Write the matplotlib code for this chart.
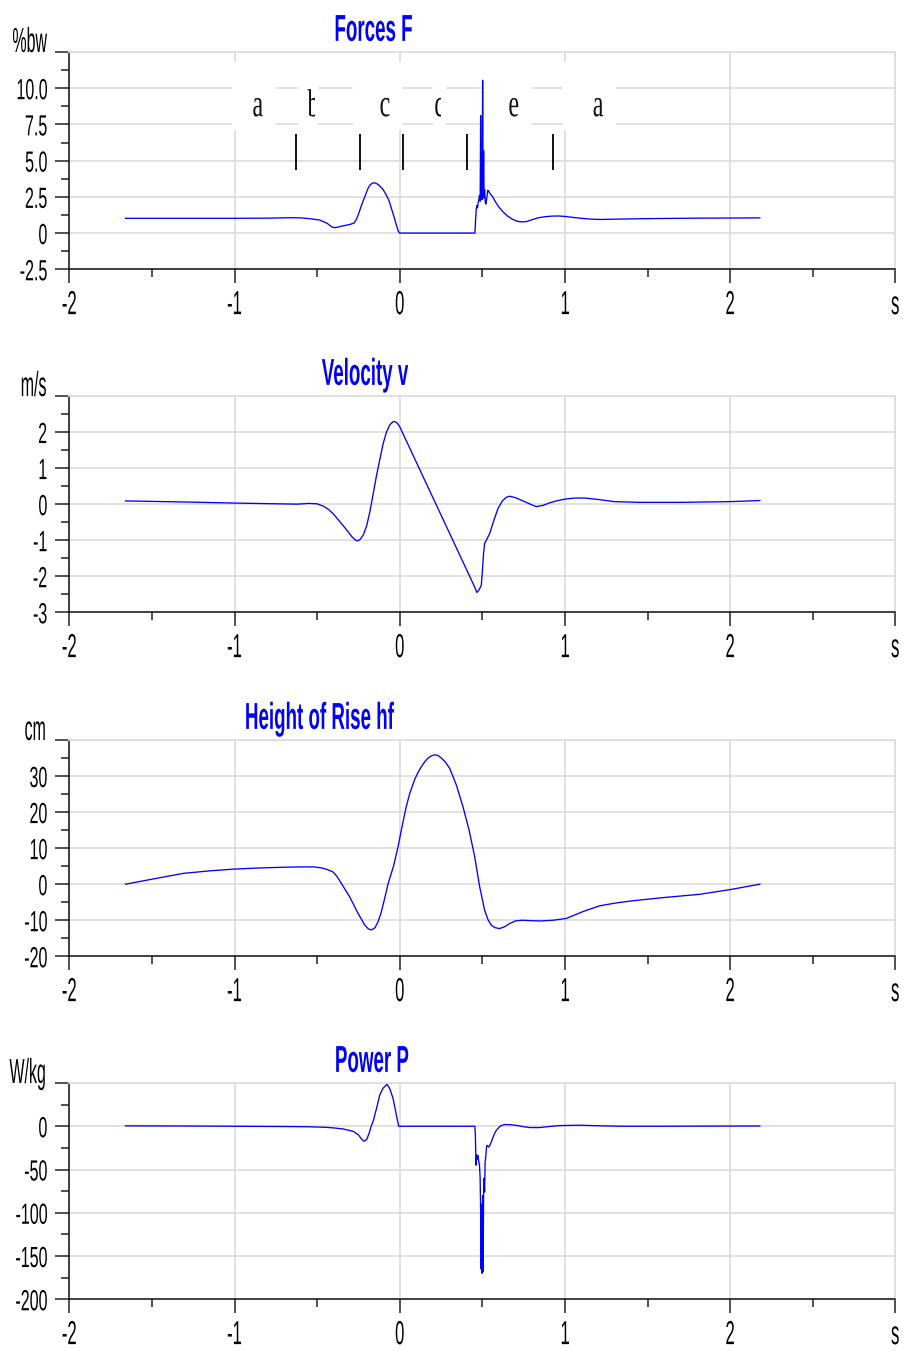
import matplotlib.pyplot as plt
import matplotlib.transforms as mtransforms
from matplotlib.patches import Rectangle
from matplotlib.patheffects import AbstractPathEffect
from matplotlib.ticker import FixedLocator, MultipleLocator

plt.rcParams['font.family'] = ['Liberation Sans', 'DejaVu Sans']
plt.rcParams['axes.unicode_minus'] = False

# ground reaction force, in body weights
force_t = [-1.66, -1.40, -1.00, -0.80, -0.666, -0.60, -0.55, -0.484, -0.44, -0.41,
           -0.39, -0.35, -0.30, -0.275, -0.26, -0.245, -0.232, -0.21, -0.192, -0.18,
           -0.165, -0.151, -0.14, -0.125, -0.10, -0.081, -0.065, -0.05, -0.035, -0.02,
           -0.008, 0.0, 0.455, 0.460, 0.463, 0.467, 0.471, 0.475, 0.479, 0.483,
           0.487, 0.490, 0.493, 0.496, 0.499, 0.502, 0.505, 0.508, 0.511, 0.514,
           0.518, 0.522, 0.527, 0.533, 0.538, 0.545, 0.56, 0.58, 0.60, 0.625,
           0.65, 0.68, 0.71, 0.74, 0.77, 0.80, 0.84, 0.88, 0.92, 0.96,
           1.00, 1.05, 1.10, 1.15, 1.21, 1.30, 1.45, 1.60, 1.80, 2.00, 2.18]
force_F = [1.02, 1.02, 1.02, 1.03, 1.06, 1.05, 1.00, 0.90, 0.68, 0.42,
           0.37, 0.48, 0.60, 0.70, 1.00, 1.45, 1.90, 2.55, 3.08, 3.32,
           3.45, 3.47, 3.42, 3.30, 3.00, 2.62, 2.25, 1.70, 1.15, 0.55,
           0.12, 0.0, 0.0, 1.0, 1.6, 1.9, 1.75, 2.1, 2.3, 2.6,
           2.2, 8.1, 2.4, 5.5, 2.3, 10.55, 2.6, 5.7, 2.4, 3.0,
           2.1, 2.0, 2.4, 2.95, 2.9, 2.75, 2.55, 2.15, 1.80, 1.47,
           1.20, 0.97, 0.82, 0.77, 0.80, 0.92, 1.06, 1.13, 1.17, 1.18,
           1.15, 1.08, 1.02, 0.97, 0.94, 0.96, 0.99, 1.01, 1.03, 1.04, 1.05]

# vertical velocity of the centre of mass, m/s
vel_t = [-1.66, -1.30, -1.00, -0.75, -0.62, -0.55, -0.50, -0.46, -0.43, -0.40,
         -0.36, -0.32, -0.29, -0.27, -0.255, -0.24, -0.22, -0.20, -0.18, -0.16,
         -0.14, -0.12, -0.10, -0.08, -0.06, -0.04, -0.03, -0.015, 0.0, 0.10,
         0.20, 0.30, 0.40, 0.455, 0.467, 0.48, 0.494, 0.50, 0.507, 0.514,
         0.53, 0.545, 0.57, 0.595, 0.62, 0.645, 0.666, 0.70, 0.746, 0.79,
         0.827, 0.87, 0.91, 0.949, 1.00, 1.06, 1.12, 1.20, 1.30, 1.45,
         1.70, 2.00, 2.18]
vel_v = [0.09, 0.06, 0.03, 0.01, 0.00, 0.02, 0.01, -0.06, -0.15, -0.28,
         -0.50, -0.72, -0.90, -0.99, -1.02, -0.98, -0.85, -0.60, -0.20, 0.30,
         0.80, 1.25, 1.68, 2.00, 2.20, 2.29, 2.29, 2.25, 2.15, 1.17,
         0.19, -0.79, -1.77, -2.31, -2.45, -2.38, -2.25, -1.90, -1.40, -1.09,
         -0.95, -0.81, -0.45, -0.12, 0.08, 0.19, 0.22, 0.18, 0.09, 0.00,
         -0.07, -0.03, 0.04, 0.09, 0.14, 0.17, 0.17, 0.13, 0.07, 0.05,
         0.05, 0.07, 0.10]

# height of rise, cm
height_t = [-1.66, -1.51, -1.31, -1.15, -1.00, -0.85, -0.71, -0.605, -0.52, -0.47,
            -0.435, -0.404, -0.38, -0.353, -0.303, -0.252, -0.212, -0.19, -0.171, -0.15,
            -0.131, -0.115, -0.101, -0.086, -0.071, -0.055, -0.038, -0.010, 0.020, 0.040,
            0.061, 0.091, 0.111, 0.131, 0.152, 0.172, 0.192, 0.212, 0.232, 0.252,
            0.278, 0.303, 0.343, 0.383, 0.420, 0.454, 0.484, 0.514, 0.535, 0.555,
            0.58, 0.605, 0.635, 0.666, 0.70, 0.737, 0.79, 0.848, 0.928, 1.009,
            1.109, 1.21, 1.31, 1.41, 1.60, 1.816, 2.00, 2.18]
height_h = [0.0, 1.3, 3.0, 3.7, 4.2, 4.5, 4.7, 4.8, 4.8, 4.5,
            4.0, 3.4, 2.2, 0.2, -3.5, -8.1, -11.3, -12.4, -12.7, -12.1,
            -10.4, -8.3, -5.8, -3.0, 0.0, 2.4, 4.9, 10.4, 17.3, 21.6,
            25.2, 29.1, 31.0, 32.6, 34.0, 35.0, 35.6, 35.9, 35.7, 35.0,
            33.8, 32.1, 27.5, 21.5, 15.0, 7.6, -0.7, -7.2, -9.9, -11.4,
            -12.1, -12.3, -11.8, -10.9, -10.2, -10.0, -10.1, -10.2, -10.0, -9.5,
            -7.6, -6.0, -5.2, -4.6, -3.7, -2.8, -1.5, 0.0]

# mechanical power, W/kg
power_t = [-1.66, -1.30, -1.00, -0.70, -0.55, -0.45, -0.40, -0.34, -0.28, -0.25,
           -0.23, -0.216, -0.20, -0.185, -0.171, -0.16, -0.151, -0.141, -0.121, -0.101,
           -0.077, -0.06, -0.04, -0.02, -0.006, 0.0, 0.455, 0.458, 0.462, 0.466,
           0.470, 0.474, 0.478, 0.483, 0.487, 0.490, 0.493, 0.496, 0.499, 0.502,
           0.505, 0.508, 0.511, 0.514, 0.517, 0.521, 0.525, 0.528, 0.54, 0.555,
           0.57, 0.585, 0.61, 0.636, 0.67, 0.706, 0.75, 0.787, 0.847, 0.92,
           0.969, 1.09, 1.20, 1.35, 1.60, 1.90, 2.18]
power_P = [0.5, 0.3, 0.0, -0.3, -0.6, -1.2, -1.9, -3.2, -6.0, -10.0,
           -15.0, -17.3, -15.5, -8.0, 1.0, 6.0, 13.0, 20.0, 36.0, 44.0,
           48.5, 43.5, 32.0, 12.7, 0.0, 0.0, 0.0, -10.0, -45.0, -33.0,
           -38.0, -34.0, -40.0, -45.0, -60.0, -100.0, -165.0, -90.0, -170.0, -80.0,
           -168.0, -75.0, -60.0, -76.0, -42.0, -35.0, -25.0, -22.0, -24.0, -18.0,
           -10.0, -4.6, 0.5, 2.0, 1.8, 1.0, -0.5, -1.5, -1.5, 0.0,
           0.8, 1.2, 0.6, 0.0, 0.0, 0.2, 0.3]

# phases of the jump marked on the force plot
phase_times = [-0.63, -0.24, 0.02, 0.41, 0.93]
phase_names = ['a', 'b', 'c', 'd', 'e', 'a']
phase_name_t = [-0.86, -0.52, -0.09, 0.245, 0.69, 1.20]

x_ticks = [-2, -1, 0, 1, 2, 3]
x_ticklabels = ['-2', '-1', '0', '1', '2', 's']

W, H = 904, 1351
AX_LEFT, AX_RIGHT = 69.3, 895.3
BLUE = '#0000ff'
GRID = '#dedede'


class Squeeze(AbstractPathEffect):
    """Draw text narrower than the font, keeping its horizontal anchor."""

    def __init__(self, sx, anchor=0.5):
        super().__init__()
        self.sx = sx
        self.anchor = anchor

    def draw_path(self, renderer, gc, tpath, affine, rgbFace=None):
        ext = tpath.get_extents()
        x0 = ext.x0 + self.anchor * ext.width
        narrow = mtransforms.Affine2D().translate(-x0, 0).scale(self.sx, 1).translate(x0, 0)
        renderer.draw_path(gc, tpath, narrow + affine, rgbFace)


def narrow(text, sx, anchor):
    """Condense a text artist; its extent shrinks with the drawn glyphs."""
    text.set_path_effects([Squeeze(sx, anchor)])
    full_extent = text.get_window_extent

    def extent(renderer=None, dpi=None):
        bb = full_extent(renderer, dpi)
        xa = bb.x0 + anchor * bb.width
        return mtransforms.Bbox([[xa - anchor * bb.width * sx, bb.y0],
                                 [xa + (1 - anchor) * bb.width * sx, bb.y1]])

    text.get_window_extent = extent
    return text


panels = [
    dict(title='Forces F', unit='%bw', t=force_t, y=force_F, ylim=(-2.5, 12.5),
         yticks=[-2.5, 0, 2.5, 5.0, 7.5, 10.0, 12.5],
         ylabels=['-2.5', '0', '2.5', '5.0', '7.5', '10.0', ''],
         minor=1.25, title_x=-0.16, top=52, bottom=269.3),
    dict(title='Velocity v', unit='m/s', t=vel_t, y=vel_v, ylim=(-3, 3),
         yticks=[-3, -2, -1, 0, 1, 2, 3],
         ylabels=['-3', '-2', '-1', '0', '1', '2', ''],
         minor=0.5, title_x=-0.21, top=396, bottom=612.3),
    dict(title='Height of Rise hf', unit='cm', t=height_t, y=height_h, ylim=(-20, 40),
         yticks=[-20, -10, 0, 10, 20, 30, 40],
         ylabels=['-20', '-10', '0', '10', '20', '30', ''],
         minor=5, title_x=-0.49, top=740, bottom=956.3),
    dict(title='Power P', unit='W/kg', t=power_t, y=power_P, ylim=(-200, 50),
         yticks=[-200, -150, -100, -50, 0, 50],
         ylabels=['-200', '-150', '-100', '-50', '0', ''],
         minor=25, title_x=-0.17, top=1083, bottom=1299.3),
]

fig = plt.figure(figsize=(W / 100, H / 100), dpi=100)
axes = []
for p in panels:
    ax = fig.add_axes([AX_LEFT / W, 1 - p['bottom'] / H,
                       (AX_RIGHT - AX_LEFT) / W, (p['bottom'] - p['top']) / H])
    ax.set_axisbelow(True)
    ax.plot(p['t'], p['y'], color=BLUE, lw=0.95, zorder=2)
    ax.set_xlim(-2, 3)
    ax.set_ylim(*p['ylim'])

    ax.xaxis.set_major_locator(FixedLocator(x_ticks))
    ax.set_xticklabels(x_ticklabels, fontsize=24)
    ax.xaxis.set_minor_locator(MultipleLocator(0.5))
    ax.yaxis.set_major_locator(FixedLocator(p['yticks']))
    ax.set_yticklabels(p['ylabels'], fontsize=21)
    ax.yaxis.set_minor_locator(MultipleLocator(p['minor']))
    for lbl in ax.get_xticklabels():
        narrow(lbl, 0.5, 0.5)
    for lbl in ax.get_yticklabels():
        narrow(lbl, 0.55, 1.0)

    ax.tick_params(which='major', direction='out', length=10, width=1.1, color='#222222')
    ax.tick_params(which='minor', direction='out', length=5.5, width=1.1, color='#222222')
    ax.tick_params(axis='x', which='major', pad=5)
    ax.tick_params(axis='y', which='major', pad=5.5)

    ax.grid(True, which='major', color=GRID, lw=1.3)
    for side in ['left', 'bottom']:
        ax.spines[side].set_color('#111111')
        ax.spines[side].set_linewidth(1.1)
    for side in ['top', 'right']:
        ax.spines[side].set_color(GRID)
        ax.spines[side].set_linewidth(1.3)

    # unit sits where the top tick label would be
    unit = ax.annotate(p['unit'], xy=(0, 1), xycoords='axes fraction', xytext=(-16, 0),
                       textcoords='offset points', ha='right', va='baseline', fontsize=25)
    narrow(unit, 0.46, 1.0)
    trans = mtransforms.blended_transform_factory(ax.transData, ax.transAxes)
    title = ax.annotate(p['title'], xy=(p['title_x'], 1), xycoords=trans, xytext=(0, 8),
                        textcoords='offset points', ha='center', va='baseline',
                        fontsize=27, fontweight='bold', color=BLUE)
    narrow(title, 0.5, 0.5)
    axes.append(ax)

# phase letters in white text boxes (the boxes are narrower than some letters)
ax = axes[0]
box_x = [(-1.013, -0.746), (-0.616, -0.494), (-0.282, 0.020),
         (0.202, 0.283), (0.505, 0.798), (0.988, 1.311)]
clip_right = [-0.746, -0.514, 0.020, 0.251, 0.798, 1.311]
box_y0, box_y1 = 7.10, 11.79
for name, t, (x0, x1), xr in zip(phase_names, phase_name_t, box_x, clip_right):
    ax.add_patch(Rectangle((x0, box_y0), x1 - x0, box_y1 - box_y0,
                           facecolor='white', edgecolor='none', zorder=1.5))
    clip = Rectangle((x0, box_y0), xr - x0, box_y1 - box_y0, transform=ax.transData)
    txt = ax.text(t, 8.07, name, ha='center', va='baseline', fontsize=28,
                  family=['Liberation Serif', 'DejaVu Serif'], color='#111111',
                  zorder=3, clip_on=True)
    narrow(txt, 0.62, 0.5)
    txt.set_clip_path(clip)

ax.vlines(phase_times, 4.34, 6.83, color='#111111', lw=1.4, zorder=2)

fig.savefig('out.png', dpi=100, facecolor='white')
